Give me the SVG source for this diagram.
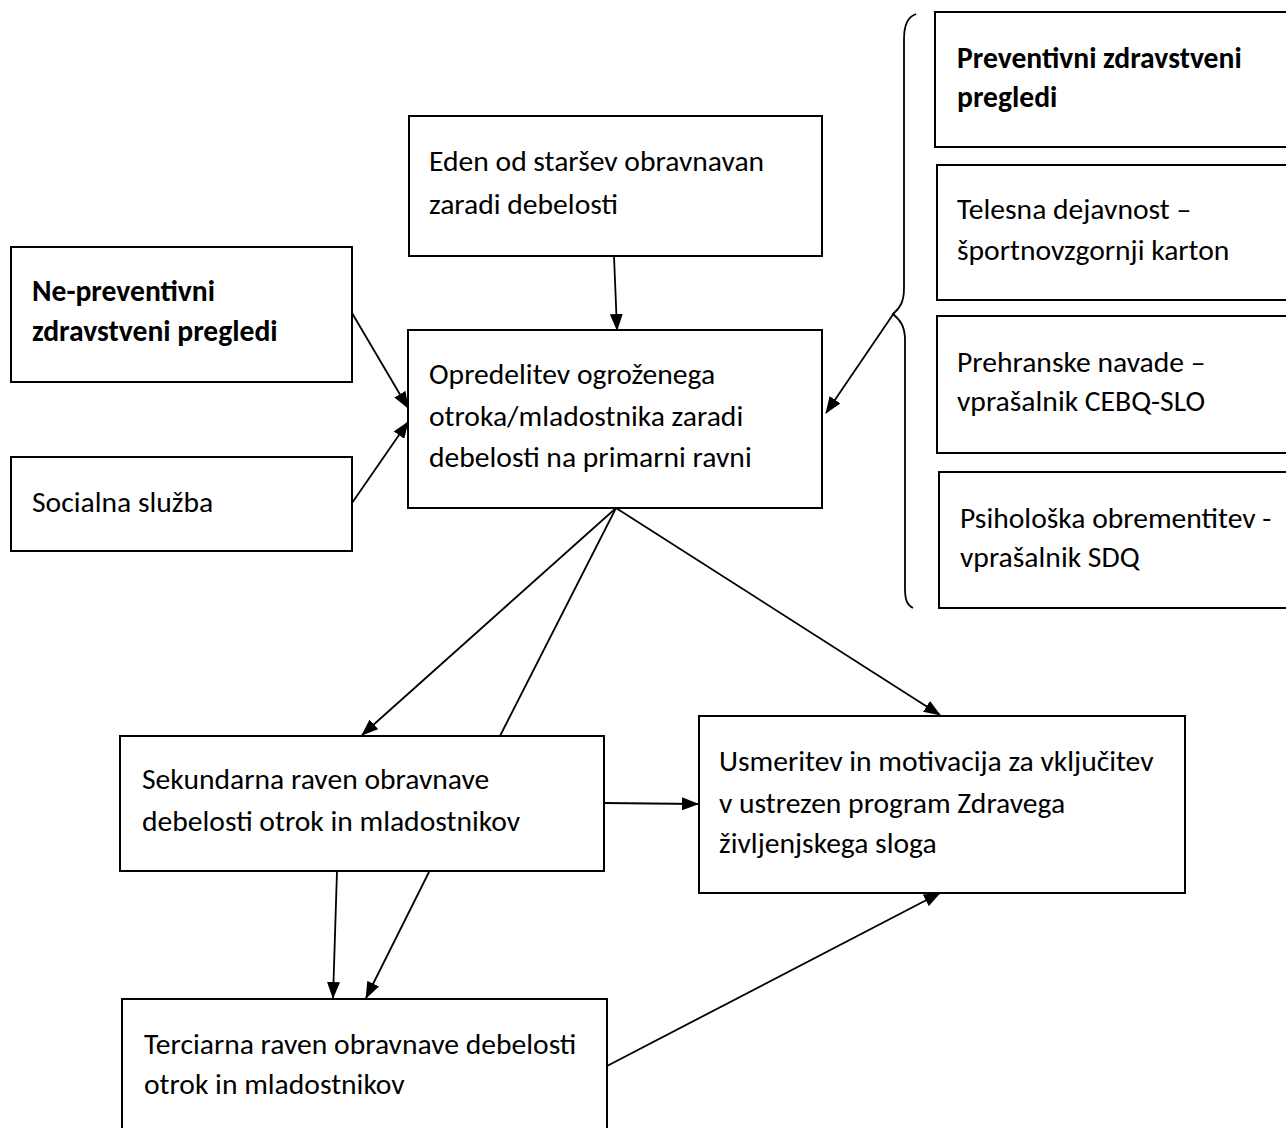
<svg xmlns="http://www.w3.org/2000/svg" width="1286" height="1128" viewBox="0 0 1286 1128">
<style>
  .box { fill: #fff; stroke: #000; stroke-width: 2; }
  .t { font-family: Carlito, Lato, "Liberation Sans", sans-serif; font-size: 29.6px; fill: #000; }
  .b { font-weight: bold; }
  .c { fill: none; stroke: #000; stroke-width: 1.8; }
</style>
<defs>
  <marker id="ah" markerUnits="userSpaceOnUse" markerWidth="17" markerHeight="13" refX="16" refY="6.5" orient="auto">
    <path d="M0,0 L17,6.5 L0,13 z" fill="#000"/>
  </marker>
</defs>
<rect width="1286" height="1128" fill="#fff"/>

<g id="eden">
  <rect class="box" x="409" y="116" width="413" height="140"/>
  <text class="t" x="429" y="171">Eden od staršev obravnavan</text>
  <text class="t" x="429" y="214">zaradi debelosti</text>
</g>
<g id="nepreventivni">
  <rect class="box" x="11" y="247" width="341" height="135"/>
  <text class="t b" x="32" y="301">Ne-preventivni</text>
  <text class="t b" x="32" y="341">zdravstveni pregledi</text>
</g>
<g id="socialna">
  <rect class="box" x="11" y="457" width="341" height="94"/>
  <text class="t" x="32" y="512">Socialna služba</text>
</g>
<g id="opredelitev">
  <rect class="box" x="408" y="330" width="414" height="178"/>
  <text class="t" x="429" y="384">Opredelitev ogroženega</text>
  <text class="t" x="429" y="426">otroka/mladostnika zaradi</text>
  <text class="t" x="429" y="467">debelosti na primarni ravni</text>
</g>
<g id="preventivni">
  <rect class="box" x="935" y="12" width="360" height="135"/>
  <text class="t b" x="957" y="68">Preventivni zdravstveni</text>
  <text class="t b" x="957" y="107">pregledi</text>
</g>
<g id="telesna">
  <rect class="box" x="937" y="165" width="358" height="135"/>
  <text class="t" x="957" y="219">Telesna dejavnost –</text>
  <text class="t" x="957" y="260">športnovzgornji karton</text>
</g>
<g id="prehranske">
  <rect class="box" x="937" y="316" width="358" height="137"/>
  <text class="t" x="957" y="372">Prehranske navade –</text>
  <text class="t" x="957" y="411">vprašalnik CEBQ-SLO</text>
</g>
<g id="psiholoska">
  <rect class="box" x="939" y="472" width="356" height="136"/>
  <text class="t" x="960" y="528">Psihološka obrementitev -</text>
  <text class="t" x="960" y="567">vprašalnik SDQ</text>
</g>
<g id="sekundarna">
  <rect class="box" x="120" y="736" width="484" height="135"/>
  <text class="t" x="142" y="789">Sekundarna raven obravnave</text>
  <text class="t" x="142" y="831">debelosti otrok in mladostnikov</text>
</g>
<g id="usmeritev">
  <rect class="box" x="699" y="716" width="486" height="177"/>
  <text class="t" x="719" y="771">Usmeritev in motivacija za vključitev</text>
  <text class="t" x="719" y="813">v ustrezen program Zdravega</text>
  <text class="t" x="719" y="853">življenjskega sloga</text>
</g>
<g id="terciarna">
  <rect class="box" x="122" y="999" width="485" height="140"/>
  <text class="t" x="144" y="1054">Terciarna raven obravnave debelosti</text>
  <text class="t" x="144" y="1094">otrok in mladostnikov</text>
</g>

<g id="brace">
  <path class="c" d="M916,14 C908,17 904,24 904,40 L904,288 C904,302 900,308 893,314 C900,320 905,326 905,340 L905,588 C905,600 907,605 913,608"/>
</g>

<g id="connectors">
  <line class="c" x1="614" y1="256" x2="617" y2="330" marker-end="url(#ah)"/>
  <line class="c" x1="352" y1="313" x2="408" y2="408" marker-end="url(#ah)"/>
  <line class="c" x1="352" y1="503" x2="408" y2="422" marker-end="url(#ah)"/>
  <line class="c" x1="894" y1="313" x2="826" y2="413" marker-end="url(#ah)"/>
  <line class="c" x1="616" y1="508" x2="362" y2="735" marker-end="url(#ah)"/>
  <line class="c" x1="616" y1="508" x2="500" y2="736"/>
  <line class="c" x1="616" y1="508" x2="940" y2="715" marker-end="url(#ah)"/>
  <line class="c" x1="604" y1="803" x2="698" y2="804" marker-end="url(#ah)"/>
  <line class="c" x1="337" y1="871" x2="333" y2="998" marker-end="url(#ah)"/>
  <line class="c" x1="429" y1="872" x2="366" y2="998" marker-end="url(#ah)"/>
  <line class="c" x1="607" y1="1066" x2="940" y2="893" marker-end="url(#ah)"/>
</g>
</svg>
